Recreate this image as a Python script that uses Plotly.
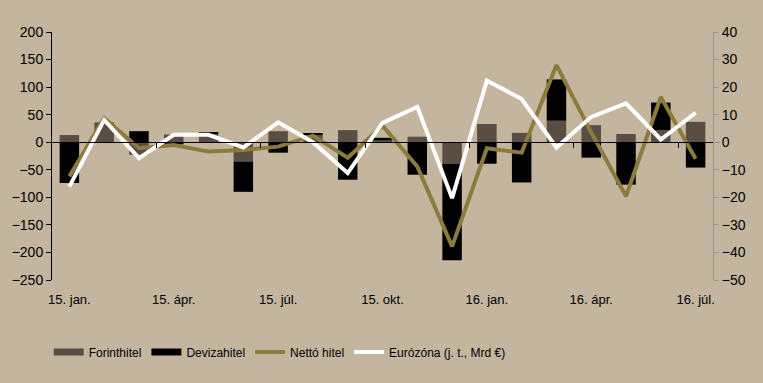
import plotly.graph_objects as go

months = ["15. jan.", "15. febr.", "15. márc.", "15. ápr.", "15. máj.", "15. jún.", "15. júl.",
          "15. aug.", "15. szept.", "15. okt.", "15. nov.", "15. dec.", "16. jan.", "16. febr.",
          "16. márc.", "16. ápr.", "16. máj.", "16. jún.", "16. júl."]
forinthitel = [13, 36, -23, 14, 15, -35, 20, 14, 22, 3, 10, -39, 33, 17, 39, 31, 15, 22, 37]
devizahitel = [-74, 0, 20, -4, 2, -55, -19, 2, -68, 5, -59, -175, -39, -73, 75, -28, -77, 50, -46]
netto_hitel = [-62, 44, -11, -5, -17, -14, -8, 12, -28, 30, -44, -189, -11, -19, 140, 18, -98, 82, -30]
eurozona = [-16.1, 8.1, -5.8, 2.7, 2.7, -1.9, 7.2, 0.0, -11.2, 7.0, 12.8, -20.3, 22.3, 15.7, -1.9, 9.2, 14.1, 1.0, 10.7]

tick_idx = [0, 3, 6, 9, 12, 15, 18]
tick_text = [months[i] for i in tick_idx]
left_ticks = list(range(-250, 201, 50))
right_ticks = list(range(-50, 41, 10))

BG = "rgb(196,182,158)"
C_FORINT = "rgb(90,77,68)"
C_DEVIZA = "rgb(0,0,0)"
C_NETTO = "rgb(139,124,62)"
C_EURO = "rgb(255,255,255)"
FONT = "Liberation Sans, Arial, sans-serif"

x = list(range(len(months)))

fig = go.Figure()
fig.add_trace(go.Bar(x=x, y=forinthitel, marker=dict(color=C_FORINT, line=dict(width=0)),
                     name="Forinthitel", showlegend=False, yaxis="y"))
fig.add_trace(go.Bar(x=x, y=devizahitel, marker=dict(color=C_DEVIZA, line=dict(width=0)),
                     name="Devizahitel", showlegend=False, yaxis="y"))
fig.add_trace(go.Scatter(x=x, y=netto_hitel, mode="lines", line=dict(color=C_NETTO, width=4),
                         name="Nettó hitel", showlegend=False, yaxis="y"))
fig.add_trace(go.Scatter(x=x, y=eurozona, mode="lines", line=dict(color=C_EURO, width=4),
                         name="Eurózóna (j. t., Mrd €)", showlegend=False, yaxis="y2"))

# legend entries
for name, col in [("Forinthitel", C_FORINT), ("Devizahitel", C_DEVIZA)]:
    fig.add_trace(go.Scatter(x=[None], y=[None], mode="lines", line=dict(color=col, width=7), name=name))
for name, col in [("Nettó hitel", C_NETTO), ("Eurózóna (j. t., Mrd €)", C_EURO)]:
    fig.add_trace(go.Scatter(x=[None], y=[None], mode="lines", line=dict(color=col, width=4), name=name))

fig.update_layout(
    width=763, height=383,
    margin=dict(l=52, r=50, t=32, b=103),
    paper_bgcolor=BG, plot_bgcolor=BG,
    barmode="relative", bargap=0.44,
    font=dict(family=FONT, size=13, color="black"),
    xaxis=dict(range=[-0.5, 18.5], tickvals=tick_idx, ticktext=tick_text, showgrid=False,
               zeroline=False, showline=False, ticks="", ticklabelstandoff=10,
               tickfont=dict(size=13)),
    xaxis2=dict(overlaying="x", anchor="free", position=250 / 450, range=[-0.5, 18.5],
                showline=True, linecolor="black", linewidth=1, ticks="outside", ticklen=5,
                tickcolor="black", tickvals=[2.5, 5.5, 8.5, 11.5, 14.5, 17.5],
                showticklabels=False, showgrid=False, zeroline=False),
    yaxis=dict(range=[-250, 200], tickvals=left_ticks, showgrid=False, zeroline=False,
               showline=True, linecolor="black", linewidth=1, ticks="outside", ticklen=5,
               tickcolor="black", tickfont=dict(size=14)),
    yaxis2=dict(range=[-50, 40], tickvals=right_ticks, overlaying="y", side="right",
                showgrid=False, zeroline=False, showline=True, linecolor="rgb(150,150,150)",
                linewidth=1, ticks="outside", ticklen=5, tickcolor="rgb(150,150,150)",
                tickfont=dict(size=14)),
    legend=dict(orientation="h", x=-0.005, xanchor="left", y=-0.29, yanchor="middle",
                bgcolor="rgba(0,0,0,0)", font=dict(size=12),
                itemwidth=30, tracegroupgap=0),
    showlegend=True,
)
fig.add_trace(go.Scatter(x=[None], y=[None], xaxis="x2", showlegend=False))

fig.write_html("out.html", config={"displayModeBar": False},
               post_script="document.body.style.margin='0';document.body.style.padding='0';")
